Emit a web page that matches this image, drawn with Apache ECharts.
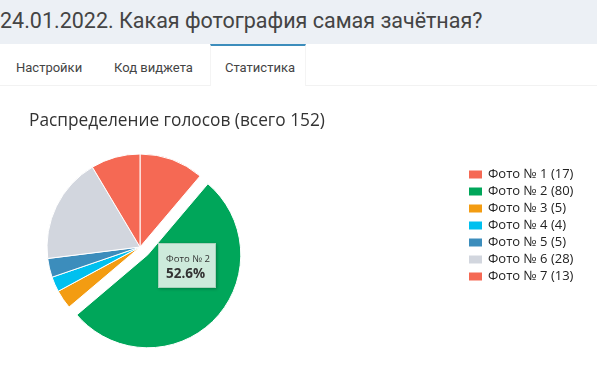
<!DOCTYPE html>
<html>
<head>
<meta charset="utf-8">
<script src="https://cdn.jsdelivr.net/npm/echarts@6/dist/echarts.min.js"></script>
<style>
  html, body { margin:0; padding:0; width:597px; height:368px; overflow:hidden; background:#fff; }
  #hdr { position:absolute; left:0; top:0; width:597px; height:44px; background:#ecf0f5; }
  #hdr span { position:absolute; left:0; top:8px; font-family:Roboto, sans-serif; font-size:21.5px; color:#444; white-space:nowrap; }
  #tabs { position:absolute; left:0; top:44px; width:597px; height:41px; background:#fff; border-bottom:1px solid #f2f2f2; }
  .tab { position:absolute; top:16px; font-family:Roboto, sans-serif; font-size:13px; color:#444; white-space:nowrap; }
  #active { position:absolute; left:210px; top:0; width:96px; height:42px; border-top:2px solid #3c8dbc; border-left:1px solid #f4f4f4; border-right:1px solid #f4f4f4; background:#fff; box-sizing:border-box; }
  #chart { position:absolute; left:0; top:0; width:597px; height:368px; }
</style>
</head>
<body>
<div id="hdr"><span>24.01.2022. Какая фотография самая зачётная?</span></div>
<div id="tabs">
  <div id="active"></div>
  <div class="tab" style="left:16px">Настройки</div>
  <div class="tab" style="left:114px">Код виджета</div>
  <div class="tab" style="left:225px">Статистика</div>
</div>
<div id="chart"></div>
<script>
const categories = ['Фото № 1', 'Фото № 2', 'Фото № 3', 'Фото № 4', 'Фото № 5', 'Фото № 6', 'Фото № 7'];
const votes = [17, 80, 5, 4, 5, 28, 13];
const colors = ['#f56954', '#00a65a', '#f39c12', '#00c0ef', '#3c8dbc', '#d2d6de', '#f56954'];
const total = votes.reduce((a, b) => a + b, 0);
const titleText = 'Распределение голосов (всего ' + total + ')';

const legendNames = categories.map((c, i) => c + ' (' + votes[i] + ')');
const data = legendNames.map((n, i) => ({
  name: n,
  value: votes[i],
  selected: i === 1,
  itemStyle: { color: colors[i] }
}));

const chart = echarts.init(document.getElementById('chart'), null, { renderer: 'canvas' });
chart.setOption({
  backgroundColor: 'transparent',
  animation: false,
  title: {
    text: titleText,
    left: 24, top: 108,
    textStyle: { fontFamily: 'Open Sans', fontSize: 17.3, fontWeight: 'normal', color: '#333' }
  },
  legend: {
    orient: 'vertical',
    left: 462, top: 163,
    itemWidth: 15, itemHeight: 10, itemGap: 4, itemTextGap: 4,
    icon: 'rect',
    selectedMode: false,
    textStyle: { fontFamily: 'Open Sans', fontSize: 13, color: '#222', lineHeight: 12 },
    data: legendNames
  },
  tooltip: {
    trigger: 'item',
    triggerOn: 'none',
    alwaysShowContent: true,
    transitionDuration: 0,
    padding: 0,
    backgroundColor: 'rgba(212,236,223,0.97)',
    borderColor: '#a8d2bb',
    borderWidth: 1,
    extraCssText: 'box-shadow:1px 1px 3px rgba(0,0,0,0.25);border-radius:0;',
    position: [158, 243],
    formatter: function (p) {
      const name = categories[p.dataIndex];
      return '<div style="width:56px;height:43px;box-sizing:border-box;padding:8px 0 0 7px;font-family:\'Open Sans\';color:#333;line-height:13px;white-space:nowrap;">' +
        '<div style="font-size:9.6px;">' + name + '</div>' +
        '<div style="font-size:13.5px;font-weight:bold;margin-top:2px;">' + p.percent.toFixed(1) + '%</div></div>';
    }
  },
  series: [{
    type: 'pie',
    center: [140, 247],
    radius: [0, 93],
    startAngle: 90,
    clockwise: true,
    selectedMode: 'single',
    selectedOffset: 11,
    label: { show: false },
    labelLine: { show: false },
    emphasis: { disabled: true },
    itemStyle: { borderColor: '#fff', borderWidth: 1 },
    data: data
  }]
});
chart.dispatchAction({ type: 'showTip', seriesIndex: 0, dataIndex: 1 });
</script>
</body>
</html>
